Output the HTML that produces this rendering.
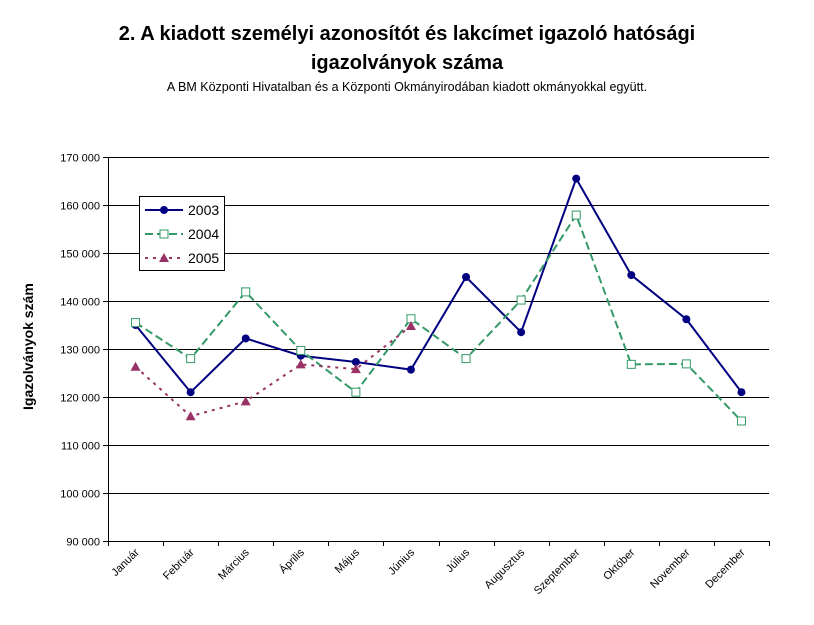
<!DOCTYPE html>
<html><head><meta charset="utf-8"><style>
body{margin:0;background:#fff}
svg{font-family:"Liberation Sans",Arial,sans-serif;display:block}
</style></head><body>
<svg id="chart" width="814" height="625">
<text x="407" y="40" text-anchor="middle" font-size="20" font-weight="bold">2. A kiadott személyi azonosítót és lakcímet igazoló hatósági</text>
<text x="407" y="69" text-anchor="middle" font-size="20" font-weight="bold">igazolványok száma</text>
<text x="407" y="91" text-anchor="middle" font-size="12.5">A BM Központi Hivatalban és a Központi Okmányirodában kiadott okmányokkal együtt.</text>
<text transform="translate(33,410) rotate(-90)" font-size="14" font-weight="bold">Igazolványok szám</text>
<g id="grid"></g><g id="axes"></g><g id="series"></g>
<g>
<rect x="139.5" y="196.5" width="85" height="74" fill="#fff" stroke="#000"/>
<line x1="145" y1="210" x2="183" y2="210" stroke="#000080" stroke-width="2"/>
<circle cx="164" cy="210" r="4" fill="#000080"/>
<text x="188" y="215" font-size="14">2003</text>
<line x1="145" y1="234" x2="183" y2="234" stroke="#339966" stroke-width="2" stroke-dasharray="8,4"/>
<rect x="160" y="230" width="8" height="8" fill="#fff" stroke="#339966"/>
<text x="188" y="239" font-size="14">2004</text>
<line x1="145" y1="258" x2="183" y2="258" stroke="#993366" stroke-width="2" stroke-dasharray="3,5"/>
<polygon points="164,253 169,262 159,262" fill="#993366"/>
<text x="188" y="263" font-size="14">2005</text>
</g>
</svg>
<script>
const categories=["Január","Február","Március","Április","Május","Június","Július","Augusztus","Szeptember","Október","November","December"];
const s2003=[135000,121000,132200,128600,127300,125700,145000,133500,165500,145400,136200,121000];
const s2004=[135500,128000,141900,129700,121000,136300,128000,140200,157900,126800,126900,115000];
const s2005=[126300,116000,119100,126800,125800,134800];
const yTicks=[90000,100000,110000,120000,130000,140000,150000,160000,170000];
const NS="http://www.w3.org/2000/svg";
const X0=108,X1=769,Y0=541,Y1=157,yMin=90000,yMax=170000;
const step=(X1-X0)/categories.length;
const xs=i=>X0+step*(i+0.5);
const ys=v=>Y0-(v-yMin)/(yMax-yMin)*(Y0-Y1);
function mk(t,a,p){const e=document.createElementNS(NS,t);for(const k in a)e.setAttribute(k,a[k]);p.appendChild(e);return e;}
const grid=document.getElementById('grid'),axes=document.getElementById('axes'),ser=document.getElementById('series');
yTicks.forEach(v=>{const y=Math.round(ys(v))+0.5;
 if(v>yMin){const g=mk('line',{x1:X0,x2:X1,y1:y,y2:y,stroke:'#000'},grid);
 
 }
 mk('line',{x1:X0-5,x2:X0,y1:y,y2:y,stroke:'#000'},axes);
 const t=mk('text',{x:X0-8,y:y+4,'text-anchor':'end','font-size':11},axes);
 t.textContent=v.toLocaleString('en').replace(/,/g,' ');
 
 });
mk('line',{x1:X0+0.5,x2:X0+0.5,y1:Y1,y2:Y0,stroke:'#000'},axes);
mk('line',{x1:X0,x2:X1,y1:Y0+0.5,y2:Y0+0.5,stroke:'#000'},axes);
for(let i=0;i<=categories.length;i++){const x=Math.round(X0+step*i)+0.5;mk('line',{x1:x,x2:x,y1:Y0,y2:Y0+5,stroke:'#000'},axes);}
categories.forEach((c,i)=>{const x=xs(i)+4,y=Y0+12;
 const t=mk('text',{x:x,y:y,'text-anchor':'end','font-size':11,transform:`rotate(-45 ${x} ${y})`},axes);
 t.textContent=c;
 
 });
function line(data,color,dash,name,marker){
 const g=mk('g',{},ser);
 
 
 mk('polyline',{points:data.map((v,i)=>xs(i)+','+ys(v)).join(' '),fill:'none',stroke:color,'stroke-width':2,'stroke-dasharray':dash},g);
 data.forEach((v,i)=>{const x=xs(i),y=ys(v);let m;
  if(marker==='c')m=mk('circle',{cx:x,cy:y,r:4,fill:color},g);
  else if(marker==='s')m=mk('rect',{x:x-4,y:y-4,width:8,height:8,fill:'#fff',stroke:color},g);
  else m=mk('polygon',{points:`${x},${y-5} ${x+5},${y+4} ${x-5},${y+4}`,fill:color},g);
  
  });
}
line(s2003,'#000080','none','series-2003','c');
line(s2004,'#339966','8,4','series-2004','s');
line(s2005,'#993366','3,5','series-2005','t');
</script>
</body></html>
